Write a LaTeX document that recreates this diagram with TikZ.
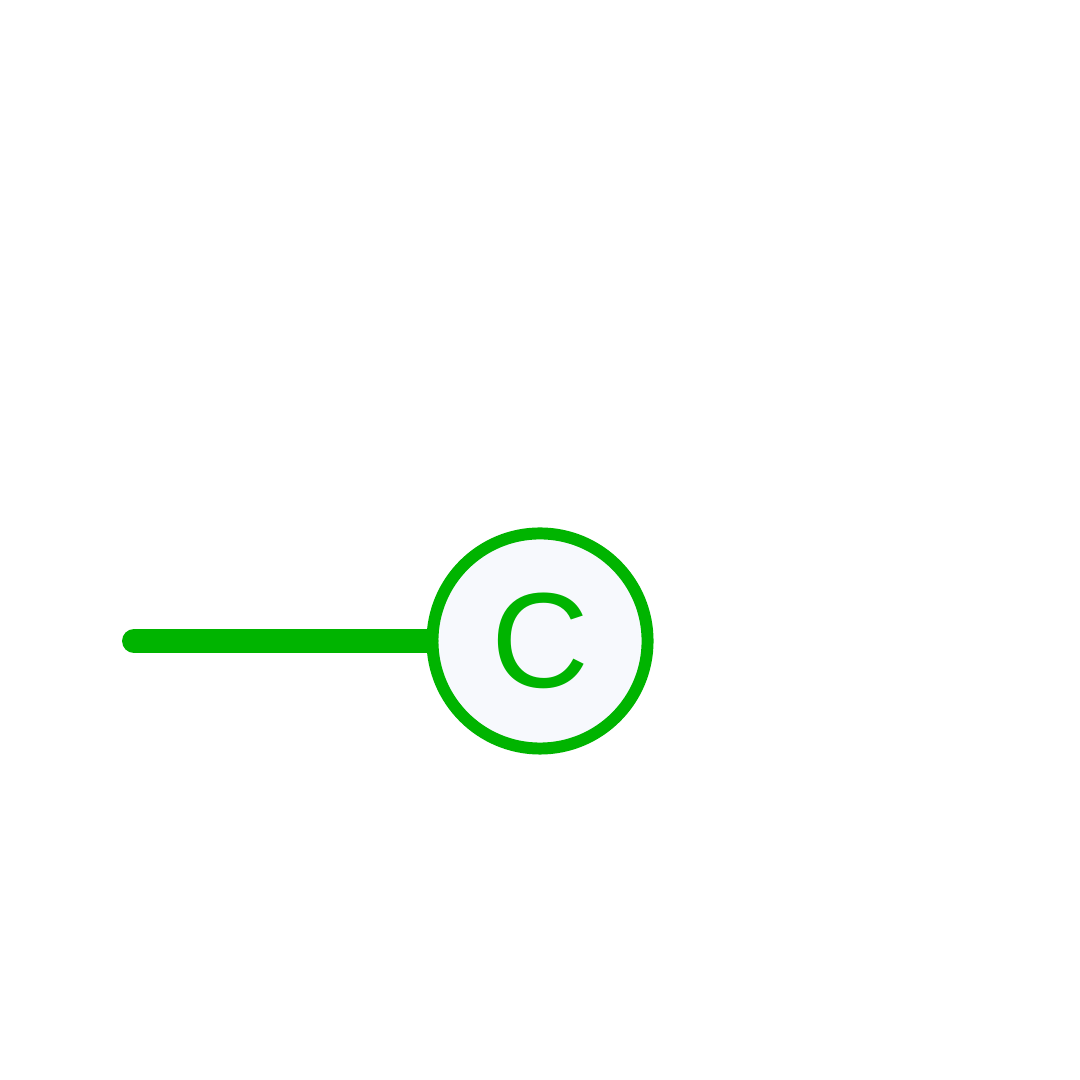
\documentclass[tikz,border=0pt]{standalone}
\usepackage{fontspec}
\usepackage{tikz}
\usetikzlibrary{positioning}
\newfontfamily\arialfont{Liberation Sans}
\definecolor{pingreen}{RGB}{0,180,0}
\definecolor{pinfill}{RGB}{247,249,253}

\begin{document}
\begin{tikzpicture}[x=0.01cm, y=0.01cm]
    \useasboundingbox[fill=white] (0, 0) rectangle (1080, 1080);

    \node[circle, draw=pingreen, fill=pinfill, line width=3.4pt,
          minimum size=2.15cm, inner sep=0pt, text=pingreen,
          font=\arialfont\fontsize{38.5}{46}\selectfont] (c) at (540, 439) {C};
    \coordinate (s) at (134, 439);
    \draw[pingreen, line width=6.8pt, line cap=round] (s) -- (c.west);
\end{tikzpicture}
\end{document}
